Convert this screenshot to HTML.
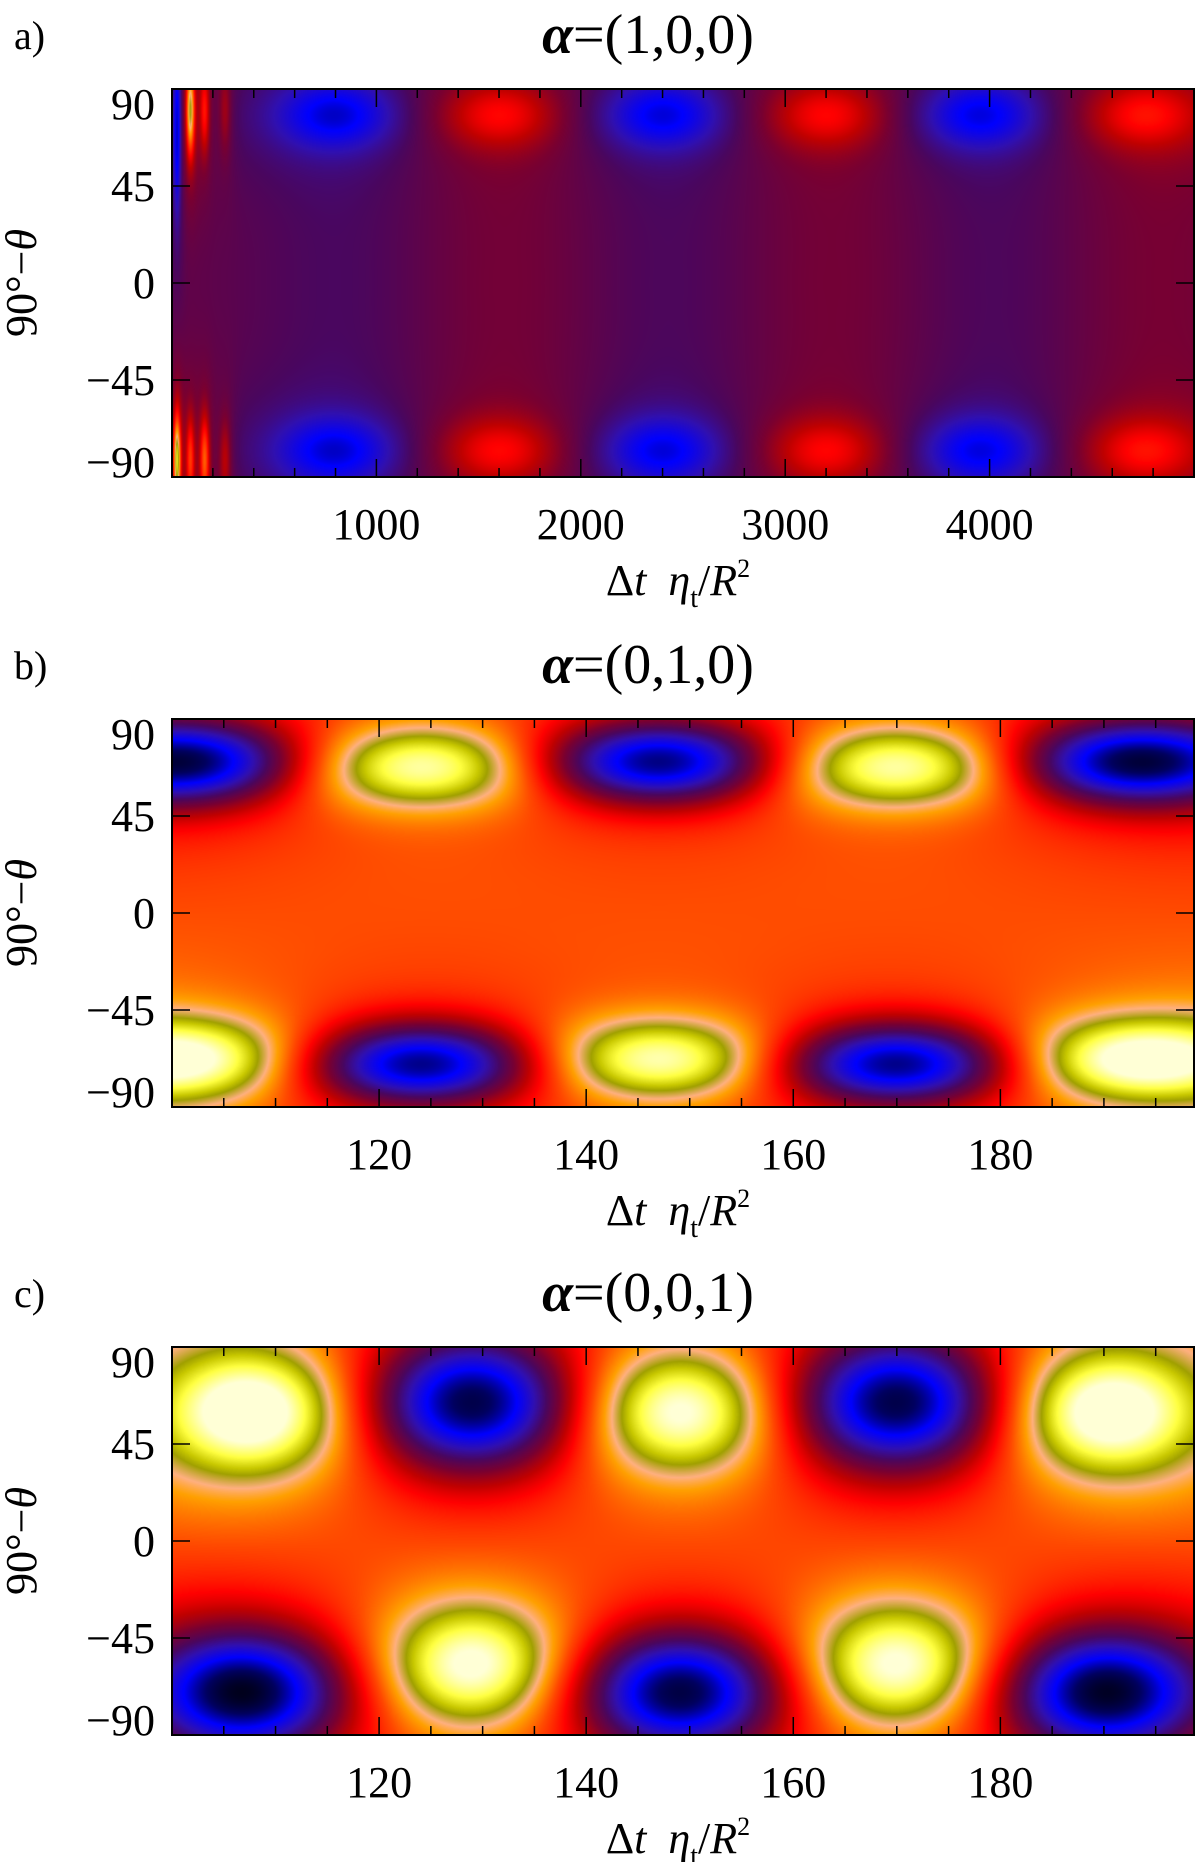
<!DOCTYPE html>
<html><head><meta charset="utf-8">
<style>
body{margin:0;background:#fff;width:1200px;height:1862px;position:relative;overflow:hidden;font-family:"Liberation Serif",serif;}
canvas{position:absolute;}
svg{position:absolute;left:0;top:0;}
</style></head>
<body>
<canvas id="ca"></canvas>
<canvas id="cb"></canvas>
<canvas id="cc"></canvas>
<svg id="ov" width="1200" height="1862"></svg>
<script>
// ---- data: panel a (alpha=(1,0,0)) ----
const aTimes=[25,25,90,90,160,160,260,260,800,800,1600,1600,2400,2400,3200,3200,3950,3950,4750,4750,830,1630,2430,3230,4030,4800];
const aLats=[70,-82,80,-82,80,-82,80,-82,78,-78,78,-78,78,-78,78,-78,78,-78,78,-78,0,0,0,0,0,0];
const aAmps=[-0.25,0.5,0.45,0.25,0.22,0.3,0.12,0.15,-0.24,-0.24,0.19,0.19,-0.24,-0.24,0.19,0.19,-0.24,-0.24,0.19,0.19,-0.045,0.04,-0.045,0.04,-0.045,0.04];
const aSx=[12,12,14,14,16,16,20,20,200,200,200,200,200,200,200,200,200,200,200,200,300,300,300,300,300,300];
const aSy=[25,14,14,14,14,14,14,14,11,11,11,11,11,11,11,11,11,11,11,11,70,70,70,70,70,70];
const aBase=0.42;
// ---- panel b (alpha=(0,1,0)) ----
const bTimes=[101,124,147,170,193,101,124,147,170,193];
const bLats=[70,68,70,68,70,-68,-70,-68,-70,-68];
const bAmps=[-0.68,0.44,-0.68,0.44,-0.68,0.44,-0.68,0.44,-0.68,0.44];
const bSx=[8,9,8,9,8,9,8,9,8,9];
const bSy=[13,14,13,14,13,14,13,14,13,14];
const bBase=0.68;
// ---- panel c (alpha=(0,0,1)) ----
const cTimes=[108,129,149,170,190,107,129,149,170,190];
const cLats=[60,64,60,64,60,-70,-58,-70,-58,-70];
const cAmps=[0.44,-0.68,0.44,-0.68,0.44,-0.68,0.44,-0.68,0.44,-0.68];
const cSx=[6.5,6.5,6.5,6.5,6.5,6.5,6.5,6.5,6.5,6.5];
const cSy=[21,21,21,21,21,19,21,19,21,19];
const cBase=0.68;
// ---- axis tick values ----
const yTicks=[90,45,0,-45,-90];
const aXTicks=[1000,2000,3000,4000];
const bcXTicks=[120,140,160,180];

const stops=[[0,0,0,0],[0.1,0,0,96],[0.2,0,0,255],[0.3,48,16,176],[0.38,74,6,94],[0.46,122,0,48],[0.54,192,0,0],[0.6,255,0,0],[0.68,255,72,0],[0.76,255,160,0],[0.8,255,176,128],[0.85,160,160,0],[0.88,200,200,0],[0.93,255,255,64],[1,255,255,214]];
function cmap(t){t=Math.max(0,Math.min(1,t));for(let i=1;i<stops.length;i++){if(t<=stops[i][0]){const a=stops[i-1],b=stops[i];const f=(t-a[0])/(b[0]-a[0]);return [a[1]+f*(b[1]-a[1]),a[2]+f*(b[2]-a[2]),a[3]+f*(b[3]-a[3])];}}return stops[stops.length-1].slice(1);}

const panels=[
 {id:'ca',top:89,bot:477,x0:0,x1:5000,T:aTimes,L:aLats,A:aAmps,SX:aSx,SY:aSy,base:aBase,ticks:aXTicks,minor:200,title:'(1,0,0)',letter:'a)'},
 {id:'cb',top:719,bot:1107,x0:100,x1:198.7,T:bTimes,L:bLats,A:bAmps,SX:bSx,SY:bSy,base:bBase,ticks:bcXTicks,minor:5,title:'(0,1,0)',letter:'b)'},
 {id:'cc',top:1347,bot:1735,x0:100,x1:198.7,T:cTimes,L:cLats,A:cAmps,SX:cSx,SY:cSy,base:cBase,ticks:bcXTicks,minor:5,title:'(0,0,1)',letter:'c)'}
];
const LEFT=172,RIGHT=1194;
const ns='http://www.w3.org/2000/svg';
const ov=document.getElementById('ov');
function mk(tag,attrs,parent){const e=document.createElementNS(ns,tag);for(const k in attrs)e.setAttribute(k,attrs[k]);(parent||ov).appendChild(e);return e;}

panels.forEach(p=>{
 const W=RIGHT-LEFT,H=p.bot-p.top;
 const cv=document.getElementById(p.id);
 cv.width=W;cv.height=H;cv.style.left=LEFT+'px';cv.style.top=p.top+'px';
 const ctx=cv.getContext('2d');const img=ctx.createImageData(W,H);
 for(let j=0;j<H;j++){const lat=90-180*(j+0.5)/H;
  for(let i=0;i<W;i++){const tm=p.x0+(p.x1-p.x0)*(i+0.5)/W;let v=p.base;
   for(let k=0;k<p.T.length;k++){const dx=(tm-p.T[k])/p.SX[k],dy=(lat-p.L[k])/p.SY[k];const r=dx*dx+dy*dy;if(r>60)continue;v+=p.A[k]*(0.75*Math.exp(-r/2)+0.25*Math.exp(-r/9));}
   const c=cmap(v);const o=(j*W+i)*4;img.data[o]=c[0];img.data[o+1]=c[1];img.data[o+2]=c[2];img.data[o+3]=255;}}
 ctx.putImageData(img,0,0);
 const sx=v=>LEFT+(v-p.x0)/(p.x1-p.x0)*W, sy=v=>p.top+(90-v)/180*H;
 const g=mk('g',{});
 
 
 mk('rect',{x:LEFT,y:p.top,width:W,height:H,fill:'none',stroke:'#000','stroke-width':2},g);
 for(let v=Math.ceil(p.x0/p.minor)*p.minor;v<=p.x1;v+=p.minor){const x=sx(v);const major=p.ticks.includes(v);const len=major?18:9;
  mk('line',{x1:x,x2:x,y1:p.bot,y2:p.bot-len,stroke:'#000','stroke-width':1.5},g);
  mk('line',{x1:x,x2:x,y1:p.top,y2:p.top+len,stroke:'#000','stroke-width':1.5},g);}
 p.ticks.forEach(v=>{const t=mk('text',{x:sx(v),y:p.bot+62,'text-anchor':'middle','font-size':44},g);t.textContent=v;
  
  });
 yTicks.forEach(v=>{const y=sy(v);
  mk('line',{x1:LEFT,x2:LEFT+18,y1:y,y2:y,stroke:'#000','stroke-width':1.5},g);
  mk('line',{x1:RIGHT,x2:RIGHT-18,y1:y,y2:y,stroke:'#000','stroke-width':1.5},g);
  const nud=v===90?15:(v===-90?-15:0);
  const t=mk('text',{x:155,y:y+15+nud,'text-anchor':'end','font-size':44},g);t.textContent=(v<0?'\u2212':'')+Math.abs(v);
  
  });
 const yt=mk('text',{x:0,y:0,'text-anchor':'middle','font-size':44,transform:`translate(36,${(p.top+p.bot)/2}) rotate(-90)`},g);
 yt.innerHTML='90°\u2212<tspan font-style="italic">θ</tspan>';
 
 
 const xt=mk('text',{x:678,y:p.bot+118,'text-anchor':'middle','font-size':44},g);
 xt.innerHTML='Δ<tspan font-style="italic">t</tspan>\u00a0\u00a0<tspan font-style="italic">η</tspan><tspan font-size="28" dy="12">t</tspan><tspan dy="-12">/</tspan><tspan font-style="italic">R</tspan><tspan font-size="26" dy="-18">2</tspan>';
 
 
 const tt=mk('text',{x:648,y:p.top-36,'text-anchor':'middle','font-size':56},g);
 tt.innerHTML='<tspan font-style="italic" font-weight="bold">α</tspan>='+p.title;
 
 
 const lt=mk('text',{x:14,y:p.top-40,'font-size':40},g);lt.textContent=p.letter;
 
 
});
</script>
</body></html>
